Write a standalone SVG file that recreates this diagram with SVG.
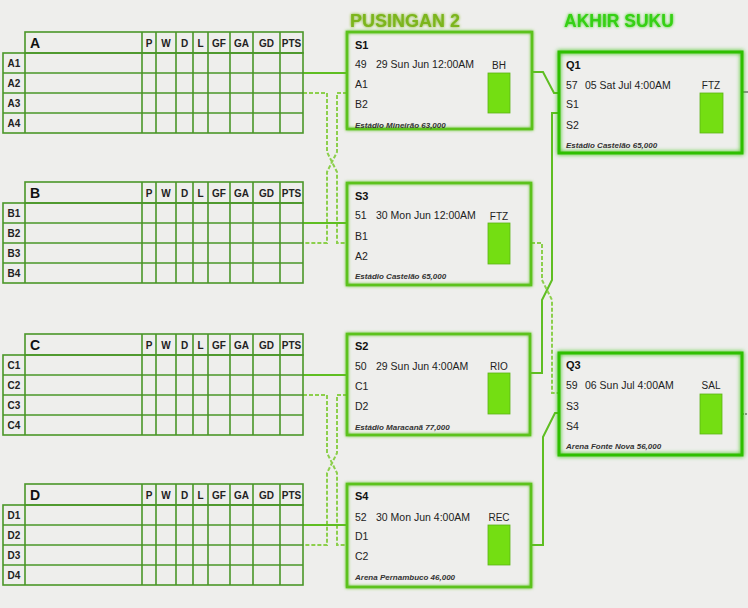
<svg xmlns="http://www.w3.org/2000/svg" width="748" height="608" viewBox="0 0 748 608">
<defs>
<filter id="glow" x="-10%" y="-10%" width="120%" height="120%">
<feGaussianBlur in="SourceGraphic" stdDeviation="1.6" result="b"/>
<feMerge><feMergeNode in="b"/><feMergeNode in="SourceGraphic"/></feMerge>
</filter>
<filter id="glow2" x="-10%" y="-10%" width="120%" height="120%">
<feGaussianBlur in="SourceGraphic" stdDeviation="2" result="b"/>
<feMerge><feMergeNode in="b"/><feMergeNode in="SourceGraphic"/></feMerge>
</filter>
<filter id="tglow" x="-10%" y="-30%" width="120%" height="160%">
<feGaussianBlur in="SourceGraphic" stdDeviation="1.5" result="b"/>
<feMerge><feMergeNode in="b"/><feMergeNode in="SourceGraphic"/></feMerge>
</filter>
<g id="tbl">
<rect x="25" y="0" width="278" height="21" class="tl"/>
<rect x="3" y="21" width="300" height="80" class="tl"/>
<path class="tl" d="M25,21V101M3,41H303M3,61H303M3,81H303M142,0V101M156,0V101M176,0V101M193,0V101M208,0V101M230,0V101M253,0V101M280,0V101"/>
<g class="th">
<text x="149" y="15">P</text><text x="166" y="15">W</text><text x="184.5" y="15">D</text><text x="200.5" y="15">L</text><text x="219" y="15">GF</text><text x="241.5" y="15">GA</text><text x="266.5" y="15">GD</text><text x="291.5" y="15">PTS</text>
</g>
</g>
</defs>
<style>
.tl{fill:none;stroke:#4a9628;stroke-width:1.6}
.th text{font-family:"Liberation Sans",Arial,sans-serif;font-size:10px;font-weight:bold;fill:#222;text-anchor:middle}
.rl{font-family:"Liberation Sans",Arial,sans-serif;font-size:10px;font-weight:bold;fill:#222;text-anchor:middle}
.gl{font-family:"Liberation Sans",Arial,sans-serif;font-size:14px;font-weight:bold;fill:#111}
.box{fill:none;stroke:#5cc21c;stroke-width:2.6}
.qbox{fill:none;stroke:#2fbf05;stroke-width:3}
.lab{font-family:"Liberation Sans",Arial,sans-serif;font-size:11px;font-weight:bold;fill:#111}
.txt{font-family:"Liberation Sans",Arial,sans-serif;font-size:10.5px;fill:#222}
.ven{font-family:"Liberation Sans",Arial,sans-serif;font-size:8px;font-style:italic;font-weight:bold;fill:#333}
.code{font-family:"Liberation Sans",Arial,sans-serif;font-size:10px;fill:#222;text-anchor:middle}
.sq{fill:#74de12;stroke:#5cb318;stroke-width:0.8}
.sol{fill:none;stroke:#5fbe22;stroke-width:2}
.dsh{fill:none;stroke:#8ccf4c;stroke-width:2;stroke-dasharray:4 2}
.thin{fill:none;stroke:#333;stroke-width:1}
.hd1{font-family:"Liberation Sans",Arial,sans-serif;font-size:18px;font-weight:bold;fill:#7cb51c}
.hd2{font-family:"Liberation Sans",Arial,sans-serif;font-size:17.5px;font-weight:bold;fill:#35d012}
</style>
<rect x="0" y="0" width="748" height="608" fill="#eeeeec"/>

<text class="hd1" x="350" y="27" filter="url(#tglow)">PUSINGAN 2</text>
<text class="hd2" x="564" y="27" filter="url(#tglow)">AKHIR SUKU</text>

<g id="connectors">
<path class="sol" d="M303,73H347"/>
<path class="dsh" d="M303,93H327V152L337,172V243H347"/>
<path class="dsh" d="M347,93H337V152L327,172V243H303"/>
<path class="sol" d="M303,223H347"/>
<path class="sol" d="M303,375H347"/>
<path class="dsh" d="M303,395H327V453L337,473V545H347"/>
<path class="dsh" d="M347,395H337V453L327,473V545H303"/>
<path class="sol" d="M303,525H347"/>
<path class="sol" d="M532,72H543L554,93H559"/>
<path class="sol" d="M530,373H542V300L552,280V113H559"/>
<path class="dsh" d="M531,243H542V280L552,300V393H559"/>
<path class="sol" d="M531,545H543V437L555,413H559"/>
<path class="thin" d="M742,92H748"/>
<path class="thin" d="M742,414H748" stroke-dasharray="2 1"/>
</g>

<g id="group-A" transform="translate(0,32)">
<use href="#tbl"/>
<text class="gl" x="30" y="16">A</text>
<text class="rl" x="14" y="35">A1</text><text class="rl" x="14" y="55">A2</text><text class="rl" x="14" y="75">A3</text><text class="rl" x="14" y="95">A4</text>
</g>
<g id="group-B" transform="translate(0,182)">
<use href="#tbl"/>
<text class="gl" x="30" y="16">B</text>
<text class="rl" x="14" y="35">B1</text><text class="rl" x="14" y="55">B2</text><text class="rl" x="14" y="75">B3</text><text class="rl" x="14" y="95">B4</text>
</g>
<g id="group-C" transform="translate(0,334)">
<use href="#tbl"/>
<text class="gl" x="30" y="16">C</text>
<text class="rl" x="14" y="35">C1</text><text class="rl" x="14" y="55">C2</text><text class="rl" x="14" y="75">C3</text><text class="rl" x="14" y="95">C4</text>
</g>
<g id="group-D" transform="translate(0,484)">
<use href="#tbl"/>
<text class="gl" x="30" y="16">D</text>
<text class="rl" x="14" y="35">D1</text><text class="rl" x="14" y="55">D2</text><text class="rl" x="14" y="75">D3</text><text class="rl" x="14" y="95">D4</text>
</g>

<g id="match-S1" transform="translate(347,32)">
<rect class="box" x="0" y="0" width="185" height="97" filter="url(#glow)"/>
<text class="lab" x="8" y="17">S1</text>
<text class="txt" x="8" y="36">49</text><text class="txt" x="29" y="36">29 Sun Jun 12:00AM</text>
<text class="code" x="152" y="37">BH</text>
<text class="txt" x="8" y="56">A1</text>
<text class="txt" x="8" y="76">B2</text>
<text class="ven" x="8" y="96">Estádio Mineirão 63,000</text>
<rect class="sq" x="141" y="41" width="22" height="40"/>
</g>
<g id="match-S3" transform="translate(347,183)">
<rect class="box" x="0" y="0" width="184" height="102" filter="url(#glow)"/>
<text class="lab" x="8" y="17">S3</text>
<text class="txt" x="8" y="36">51</text><text class="txt" x="29" y="36">30 Mon Jun 12:00AM</text>
<text class="code" x="152" y="37">FTZ</text>
<text class="txt" x="8" y="57">B1</text>
<text class="txt" x="8" y="77">A2</text>
<text class="ven" x="8" y="96">Estádio Castelão 65,000</text>
<rect class="sq" x="141" y="40" width="22" height="41"/>
</g>
<g id="match-S2" transform="translate(347,334)">
<rect class="box" x="0" y="0" width="183" height="101" filter="url(#glow)"/>
<text class="lab" x="8" y="16">S2</text>
<text class="txt" x="8" y="36">50</text><text class="txt" x="29" y="36">29 Sun Jun 4:00AM</text>
<text class="code" x="152" y="36">RIO</text>
<text class="txt" x="8" y="56">C1</text>
<text class="txt" x="8" y="76">D2</text>
<text class="ven" x="8" y="96">Estádio Maracanã 77,000</text>
<rect class="sq" x="141" y="39" width="22" height="41"/>
</g>
<g id="match-S4" transform="translate(347,484)">
<rect class="box" x="0" y="0" width="184" height="103" filter="url(#glow)"/>
<text class="lab" x="8" y="16">S4</text>
<text class="txt" x="8" y="37">52</text><text class="txt" x="29" y="37">30 Mon Jun 4:00AM</text>
<text class="code" x="152" y="37">REC</text>
<text class="txt" x="8" y="56">D1</text>
<text class="txt" x="8" y="76">C2</text>
<text class="ven" x="8" y="96">Arena Pernambuco 46,000</text>
<rect class="sq" x="141" y="41" width="22" height="40"/>
</g>
<g id="match-Q1" transform="translate(559,52)">
<rect class="qbox" x="0" y="0" width="183" height="101" filter="url(#glow2)"/>
<text class="lab" x="7" y="17">Q1</text>
<text class="txt" x="7" y="37">57</text><text class="txt" x="26" y="37">05 Sat Jul 4:00AM</text>
<text class="code" x="152" y="37">FTZ</text>
<text class="txt" x="7" y="56">S1</text>
<text class="txt" x="7" y="77">S2</text>
<text class="ven" x="7" y="96">Estádio Castelão 65,000</text>
<rect class="sq" x="141" y="41" width="23" height="40"/>
</g>
<g id="match-Q3" transform="translate(559,353)">
<rect class="qbox" x="0" y="0" width="183" height="102" filter="url(#glow2)"/>
<text class="lab" x="7" y="16">Q3</text>
<text class="txt" x="7" y="36">59</text><text class="txt" x="26" y="36">06 Sun Jul 4:00AM</text>
<text class="code" x="152" y="36">SAL</text>
<text class="txt" x="7" y="57">S3</text>
<text class="txt" x="7" y="77">S4</text>
<text class="ven" x="7" y="96">Arena Fonte Nova 56,000</text>
<rect class="sq" x="141" y="41" width="22" height="40"/>
</g>
</svg>
